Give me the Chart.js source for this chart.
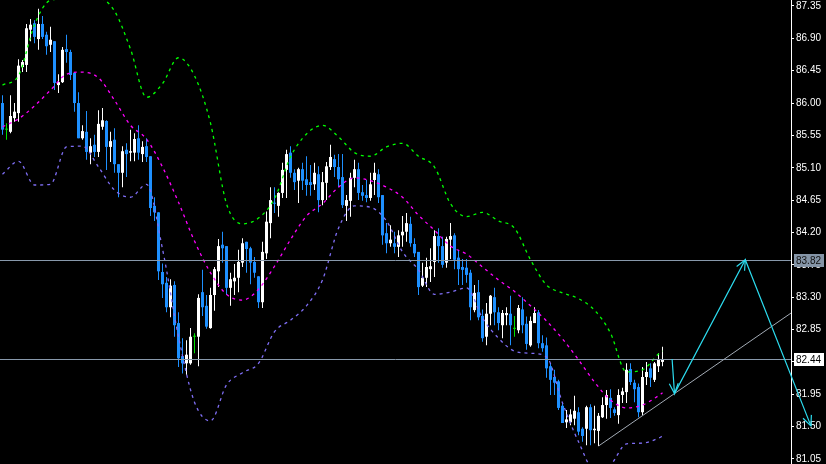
<!DOCTYPE html>
<html>
<head>
<meta charset="utf-8">
<script src="https://cdn.jsdelivr.net/npm/chart.js"></script>
<style>
  html, body { margin: 0; padding: 0; background: #000; overflow: hidden; }
</style>
</head>
<body>
<canvas id="myChart" width="826" height="464"></canvas>
<script>
// candles, one per bar, oldest first
var opens = [86.00,85.63,85.60,85.79,85.86,86.50,86.53,87.02,87.11,86.89,87.10,86.95,86.81,86.86,86.25,86.29,86.75,86.71,86.42,86.00,
  85.51,85.60,85.31,85.42,85.32,85.67,85.75,85.39,85.49,85.15,85.03,85.35,85.31,85.31,85.51,85.29,85.40,85.26,84.57,84.48,
  83.65,83.50,83.16,83.47,82.94,82.48,82.38,82.38,82.75,82.75,83.37,83.18,82.87,83.33,83.66,84.03,84.01,83.43,83.52,83.57,
  83.78,84.07,83.98,83.79,83.59,83.23,83.91,84.33,84.61,84.57,84.75,85.07,85.31,85.03,84.92,85.08,84.94,84.90,84.87,85.01,
  84.65,84.89,85.11,85.22,85.11,84.97,84.57,84.64,84.96,85.08,84.76,84.72,84.68,84.93,85.01,84.72,84.19,84.05,84.05,84.00,
  84.16,84.21,84.32,84.04,83.93,83.46,83.57,83.69,83.79,84.15,84.01,83.78,84.10,84.16,83.85,83.72,83.71,83.64,83.12,83.37,
  83.04,82.75,83.07,83.30,83.09,82.91,83.05,83.07,82.86,82.84,83.13,82.93,82.63,82.94,83.09,82.66,82.63,82.34,82.19,82.13,
  81.79,81.56,81.56,81.61,81.70,81.47,81.47,81.77,81.45,81.44,81.63,81.80,81.90,81.74,81.66,81.94,81.98,82.30,82.11,82.05,
  81.70,82.19,82.31,82.15,82.34,82.40];
var highs = [86.11,85.72,86.11,86.00,86.61,86.60,87.10,87.17,87.15,87.31,87.21,86.99,87.06,86.86,86.40,86.78,86.95,86.74,86.42,86.15,
  85.69,85.89,85.51,85.56,85.90,85.93,85.76,85.60,85.65,85.15,85.40,85.44,85.63,85.58,85.69,85.47,85.51,85.26,84.69,84.48,
  83.77,83.58,83.55,83.52,83.09,82.73,82.70,82.87,82.80,83.34,83.68,83.33,83.43,83.72,84.11,84.21,84.01,83.64,83.76,83.96,
  84.12,84.07,84.00,83.86,83.59,84.07,84.49,84.83,84.83,84.76,85.17,85.35,85.40,85.08,85.10,85.17,85.26,85.14,85.17,85.12,
  85.04,85.18,85.42,85.28,85.29,85.29,84.72,85.03,85.21,85.17,84.86,84.93,85.03,85.17,85.08,84.72,84.33,84.30,84.21,84.23,
  84.43,84.47,84.42,84.12,83.93,83.78,83.85,83.98,84.23,84.26,84.14,84.14,84.33,84.19,83.96,83.83,83.83,83.68,83.47,83.54,
  83.13,83.22,83.33,83.43,83.16,83.12,83.16,83.32,83.04,83.19,83.30,83.03,83.03,83.16,83.12,82.77,82.74,82.38,82.29,82.15,
  81.84,81.73,81.74,81.93,81.77,81.49,81.79,81.81,81.79,81.69,81.91,82.01,82.02,81.77,82.02,82.04,82.38,82.38,82.15,82.10,
  82.33,82.40,82.38,82.40,82.52,82.61];
var lows = [85.56,85.49,85.58,85.74,85.74,86.43,86.43,86.86,86.83,86.74,86.89,86.67,86.71,86.18,86.14,86.28,86.56,86.32,85.88,85.51,
  85.49,85.21,85.15,85.25,85.25,85.63,85.07,85.18,85.03,84.69,84.83,84.97,85.19,85.19,85.21,85.18,85.18,84.43,84.36,83.54,
  83.29,83.09,83.02,82.75,82.33,82.24,82.22,82.36,82.52,82.34,83.04,82.86,82.86,83.11,83.44,83.78,83.33,83.18,83.33,83.37,
  83.72,83.64,83.48,83.57,83.15,83.15,83.83,84.12,84.47,84.42,84.68,84.68,84.96,84.79,84.61,84.79,84.71,84.71,84.79,84.48,
  84.58,84.65,85.07,84.97,84.83,84.54,84.36,84.42,84.83,84.65,84.64,84.62,84.64,84.72,84.61,84.03,83.91,84.00,83.91,83.86,
  84.00,84.07,84.00,83.86,83.33,83.44,83.44,83.51,83.58,83.78,83.71,83.71,83.83,83.69,83.47,83.47,83.50,82.98,83.09,82.98,
  82.68,82.63,82.91,82.91,82.84,82.73,82.91,82.63,82.75,82.80,82.80,82.57,82.61,82.94,82.59,82.54,82.18,81.94,81.94,81.73,
  81.55,81.48,81.52,81.52,81.38,81.29,81.24,81.24,81.27,81.23,81.62,81.61,81.62,81.65,81.54,81.83,81.83,82.08,81.84,81.63,
  81.66,82.08,82.05,82.12,82.26,82.34];
var closes = [85.63,85.63,85.82,85.88,86.52,86.57,87.04,87.09,86.92,87.10,86.92,86.79,86.88,86.28,86.29,86.74,86.71,86.39,86.00,85.51,
  85.61,85.32,85.40,85.32,85.71,85.76,85.39,85.47,85.15,85.03,85.33,85.29,85.33,85.50,85.31,85.39,85.25,84.54,84.48,83.66,
  83.48,83.16,83.46,82.91,82.45,82.38,82.50,82.75,82.75,83.29,83.16,82.89,83.33,83.69,84.01,83.98,83.43,83.55,83.57,83.79,
  84.05,83.97,83.78,83.64,83.23,83.93,84.35,84.65,84.60,84.75,85.07,85.29,85.03,84.90,85.08,84.92,84.86,84.86,85.03,84.65,
  84.90,85.12,85.25,85.11,84.94,84.58,84.65,84.96,85.08,84.75,84.71,84.68,84.87,85.03,84.69,84.16,84.05,84.10,84.00,84.16,
  84.21,84.33,84.05,83.91,83.44,83.57,83.72,83.73,84.15,84.01,83.75,84.11,84.15,83.82,83.69,83.68,83.61,83.16,83.36,83.02,
  82.73,83.07,83.32,83.09,82.94,83.08,83.08,82.91,82.86,83.15,82.91,82.65,82.97,83.08,82.66,82.59,82.31,82.15,82.11,81.76,
  81.55,81.60,81.67,81.72,81.43,81.37,81.77,81.45,81.47,81.65,81.80,81.94,81.76,81.69,81.94,81.99,82.29,82.12,82.02,81.70,
  82.19,82.26,82.18,82.38,82.43,82.44];

// Bollinger band readings, sampled every 4th bar
var bandIdx = [0,4,8,12,16,20,24,28,32,36,40,44,48,52,56,60,64,68,72,76,80,84,88,92,96,100,104,108,112,116,120,124,128,132,136,140,144,148,152,156,160,164,165];
var upperBand = [86.25,86.38,87.09,87.43,87.45,87.49,87.47,87.28,86.75,86.08,86.27,86.63,86.38,85.72,84.60,84.32,84.40,84.67,85.25,85.57,
  85.69,85.53,85.31,85.26,85.39,85.44,85.26,85.11,84.60,84.42,84.48,84.36,84.26,83.82,83.47,83.36,83.28,83.12,82.80,82.26,82.29,82.51,82.55];
var middleBand = [85.67,85.78,85.96,86.18,86.40,86.43,86.35,86.04,85.69,85.50,85.11,84.62,84.08,83.64,83.34,83.26,83.41,83.73,84.10,84.43,
  84.60,84.83,84.96,84.92,84.83,84.69,84.44,84.23,84.01,83.90,83.72,83.54,83.38,83.18,82.97,82.72,82.43,82.12,81.87,81.76,81.80,81.93,81.97];
var lowerBand = [85.01,85.19,84.86,84.87,85.39,85.40,85.11,84.79,84.69,84.87,83.97,82.75,81.84,81.58,82.08,82.25,82.38,82.82,82.98,83.18,
  83.54,84.26,84.57,84.55,84.36,83.93,83.68,83.34,83.37,83.43,83.01,82.73,82.55,82.52,82.47,81.83,81.29,80.90,80.97,81.26,81.27,81.34,81.37];

var priceTicks = [81.05,81.50,81.95,82.40,82.85,83.30,83.75,84.20,84.65,85.10,85.55,86.00,86.45,86.90,87.35];
var levelLines = [83.82, 82.44];
var trendPts = [[149, 81.23], [168, 81.96]];
var wavePts = [[167.4, 82.44], [168, 81.96], [185.7, 83.82], [202.1, 81.51]];

var BULL = '#ffffff', BEAR = '#1e90ff', DOJI = '#00e000';
var candleColors = opens.map(function (o, i) {
  if (closes[i] > o) return BULL;
  if (closes[i] < o) return BEAR;
  return DOJI;
});

function series(vals) {
  return bandIdx.map(function (x, j) { return { x: x, y: vals[j] }; });
}

function arrowHead(ctx, from, to) {
  var ang = Math.atan2(from[1] - to[1], from[0] - to[0]);
  var len = 11, spread = 0.42;
  ctx.beginPath();
  ctx.moveTo(to[0] + len * Math.cos(ang + spread), to[1] + len * Math.sin(ang + spread));
  ctx.lineTo(to[0], to[1]);
  ctx.lineTo(to[0] + len * Math.cos(ang - spread), to[1] + len * Math.sin(ang - spread));
  ctx.stroke();
}

var overlay = {
  id: 'overlay',
  beforeDraw: function (chart) {
    var ctx = chart.ctx;
    ctx.save();
    ctx.fillStyle = '#000';
    ctx.fillRect(0, 0, chart.width, chart.height);
    ctx.restore();
  },
  afterDatasetsDraw: function (chart) {
    var ctx = chart.ctx, xs = chart.scales.x, ys = chart.scales.y, area = chart.chartArea;
    ctx.save();
    ctx.lineWidth = 1;

    // horizontal levels
    ctx.strokeStyle = '#8899ab';
    levelLines.forEach(function (p) {
      var y = Math.round(ys.getPixelForValue(p)) + 0.5;
      ctx.beginPath();
      ctx.moveTo(area.left, y);
      ctx.lineTo(area.right, y);
      ctx.stroke();
    });

    // trend ray
    var x1 = xs.getPixelForValue(trendPts[0][0]), y1 = ys.getPixelForValue(trendPts[0][1]);
    var x2 = xs.getPixelForValue(trendPts[1][0]), y2 = ys.getPixelForValue(trendPts[1][1]);
    var slope = (y2 - y1) / (x2 - x1);
    ctx.strokeStyle = '#a3abb5';
    ctx.beginPath();
    ctx.moveTo(x1, y1);
    ctx.lineTo(area.right, y1 + slope * (area.right - x1));
    ctx.stroke();
    ctx.restore();
  },
  afterDraw: function (chart) {
    var ctx = chart.ctx, xs = chart.scales.x, ys = chart.scales.y, area = chart.chartArea;
    ctx.save();

    // price boxes on the axis
    var boxes = [[levelLines[0], '#8494a6', '#111'], [levelLines[1], '#ffffff', '#000']];
    ctx.font = "10px 'Liberation Sans'";
    ctx.textBaseline = 'middle';
    boxes.forEach(function (b) {
      var y = Math.round(ys.getPixelForValue(b[0]));
      ctx.fillStyle = b[1];
      ctx.fillRect(area.right + 3, y - 6, 30, 13);
      ctx.fillStyle = b[2];
      ctx.fillText(b[0].toFixed(2), area.right + 5, y + 1);
    });

    // projected wave path
    var pts = wavePts.map(function (p) { return [xs.getPixelForValue(p[0]), ys.getPixelForValue(p[1])]; });
    ctx.strokeStyle = '#2cdcef';
    ctx.lineWidth = 1.2;
    ctx.beginPath();
    ctx.moveTo(pts[0][0], pts[0][1]);
    for (var i = 1; i < pts.length; i++) ctx.lineTo(pts[i][0], pts[i][1]);
    ctx.stroke();
    for (var j = 1; j < pts.length; j++) arrowHead(ctx, pts[j - 1], pts[j]);
    ctx.restore();
  }
};

var ctx = document.getElementById('myChart').getContext('2d');
var myChart = new Chart(ctx, {
  type: 'bar',
  data: {
    datasets: [
      {
        type: 'line', label: 'upper', order: 0,
        data: series(upperBand),
        borderColor: '#00ff00', borderWidth: 1.3, borderDash: [3, 4],
        pointRadius: 0, fill: false, cubicInterpolationMode: 'monotone'
      },
      {
        type: 'line', label: 'middle', order: 0,
        data: series(middleBand),
        borderColor: '#ff00ff', borderWidth: 1.3, borderDash: [3, 4],
        pointRadius: 0, fill: false, cubicInterpolationMode: 'monotone'
      },
      {
        type: 'line', label: 'lower', order: 0,
        data: series(lowerBand),
        borderColor: '#7f6ef5', borderWidth: 1.3, borderDash: [3, 4],
        pointRadius: 0, fill: false, cubicInterpolationMode: 'monotone'
      },
      {
        label: 'bodies', order: 1, grouped: false,
        data: opens.map(function (o, i) { return { x: i, y: [o, closes[i]] }; }),
        backgroundColor: candleColors, barThickness: 3, minBarLength: 1,
        borderWidth: 0, inflateAmount: 0
      },
      {
        label: 'wicks', order: 2, grouped: false,
        data: lows.map(function (l, i) { return { x: i, y: [l, highs[i]] }; }),
        backgroundColor: candleColors, barThickness: 1, minBarLength: 1,
        borderWidth: 0, inflateAmount: 0
      }
    ]
  },
  options: {
    responsive: false,
    animation: false,
    devicePixelRatio: 1,
    layout: { padding: 0 },
    plugins: { legend: { display: false }, tooltip: { enabled: false } },
    scales: {
      x: {
        type: 'linear', display: false, offset: false,
        min: -0.625, max: 197.125
      },
      y: {
        position: 'right',
        min: 80.98, max: 87.433,
        afterBuildTicks: function (scale) {
          scale.ticks = priceTicks.map(function (v) { return { value: v }; });
        },
        afterFit: function (scale) {
          scale.width = 35;
          scale.paddingTop = 0;
          scale.paddingBottom = 0;
        },
        ticks: {
          color: '#ffffff', padding: 2, autoSkip: false,
          font: { family: 'Liberation Sans', size: 10 },
          callback: function (v) { return Number(v).toFixed(2); }
        },
        grid: { drawOnChartArea: false, drawTicks: true, tickLength: 3, color: '#ffffff' },
        border: { display: true, color: '#ffffff' }
      }
    }
  },
  plugins: [overlay]
});
</script>
</body>
</html>
